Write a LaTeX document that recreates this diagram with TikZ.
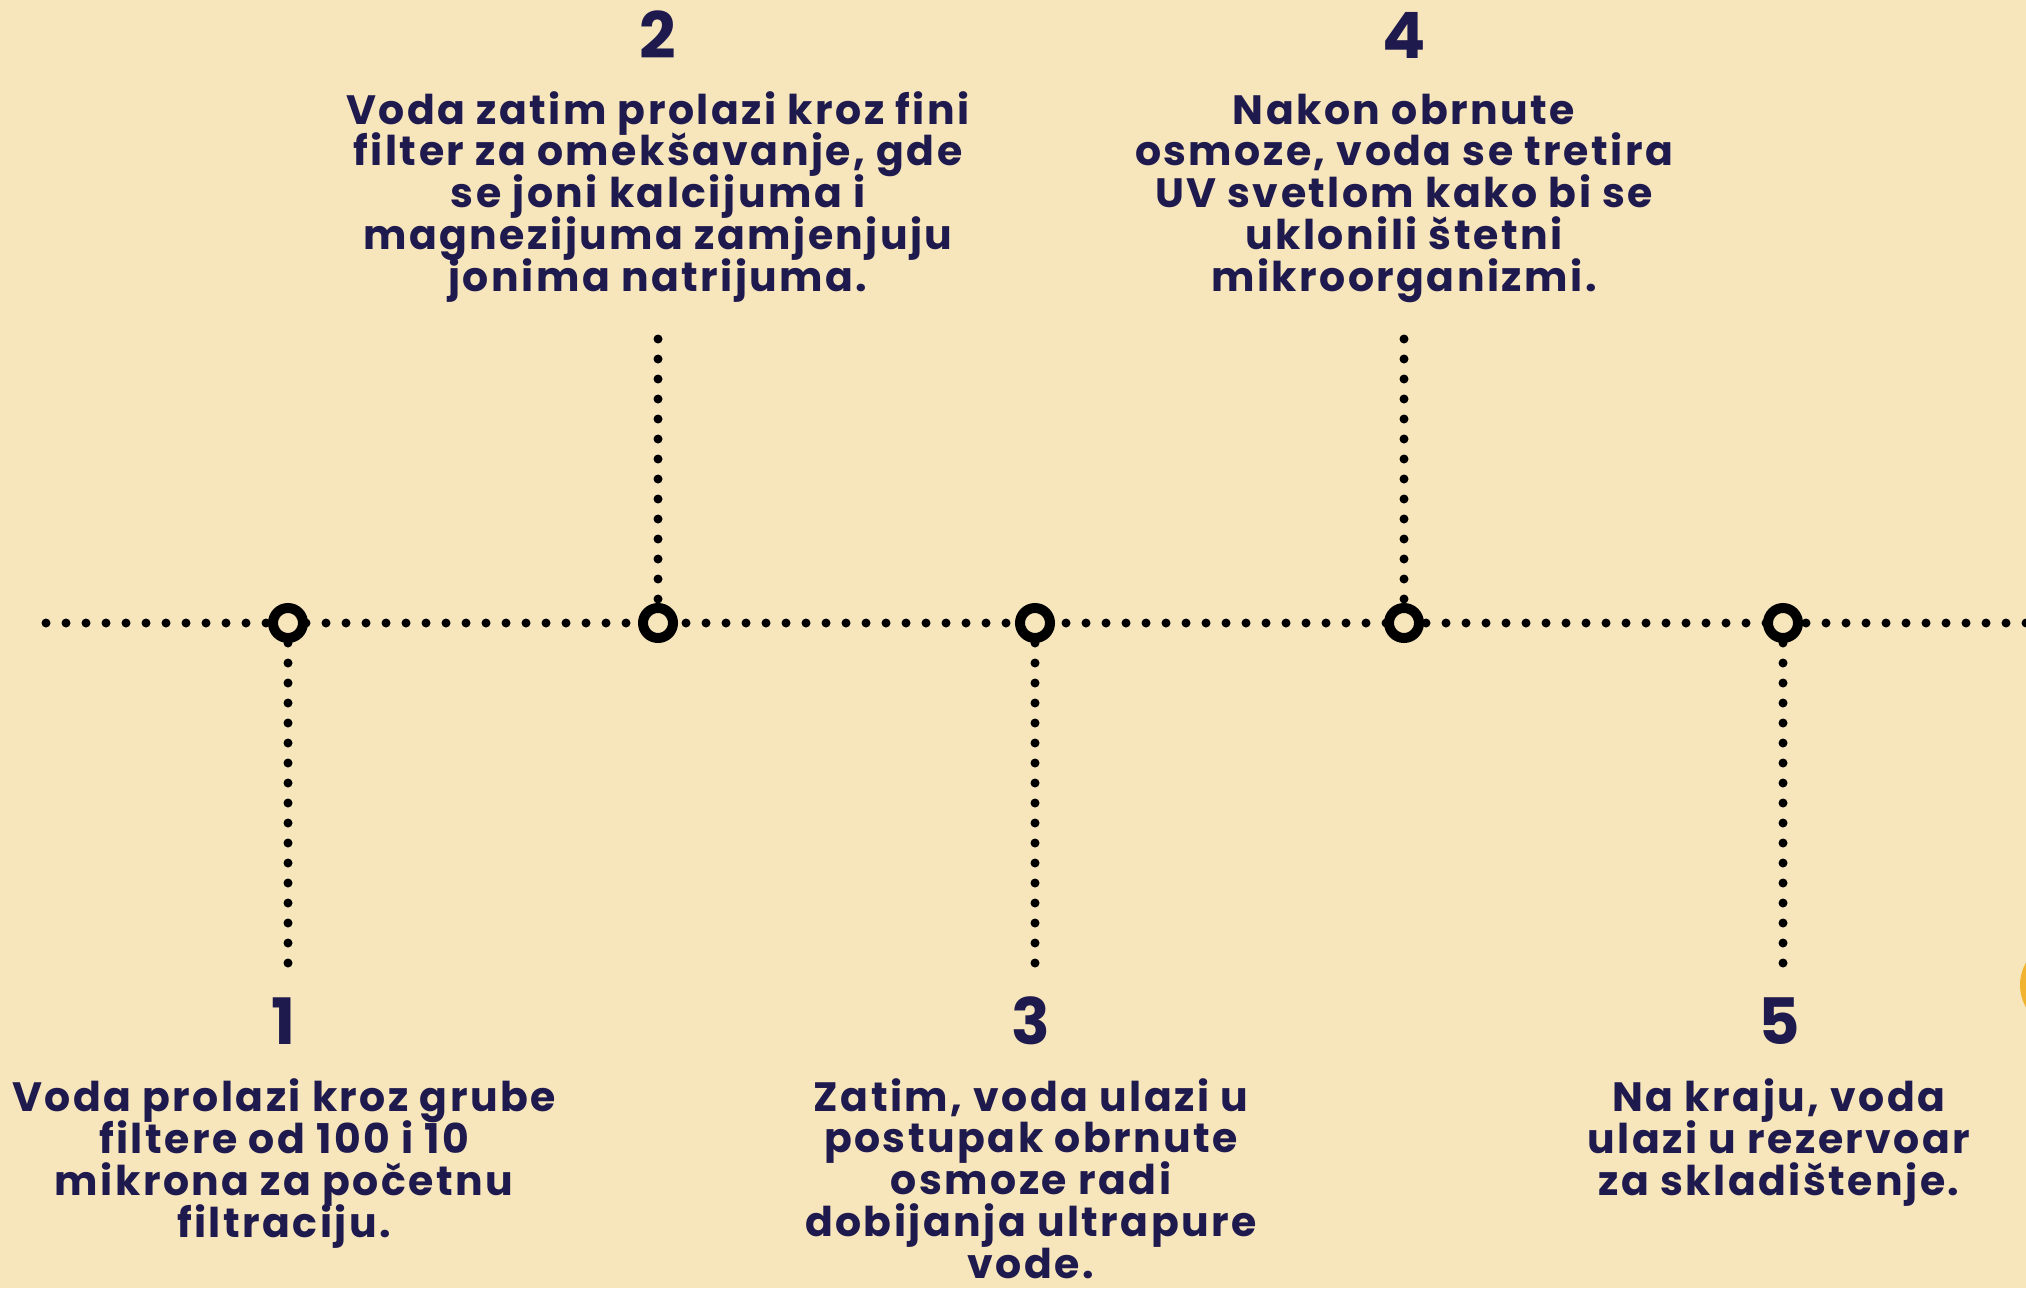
\documentclass[tikz,border=0pt]{standalone}
\usepackage{fontspec}
\setmainfont{Poppins}[UprightFont=* Bold, LetterSpace=6]
\newfontfamily\numfont{Poppins}[UprightFont=* Bold]
\definecolor{bg}{HTML}{F7E6BC}
\definecolor{ink}{HTML}{1F1A4E}
\definecolor{sun}{HTML}{F2B430}
\newcommand\bodyfont{\fontsize{41}{41.7}\selectfont\lineskiplimit=-100pt\lineskip=0pt}
\begin{document}
\begin{tikzpicture}[x=1pt,y=-1pt,
  dotline/.style={line width=9pt, line cap=round, dash pattern=on 0pt off 20pt, black},
  ring/.style={circle, draw=black, line width=10pt, minimum size=30pt, inner sep=0pt, fill=bg},
  body/.style={align=center, text=ink, font=\bodyfont, anchor=base, inner sep=0pt},
  num/.style={text=ink, font=\numfont\fontsize{64}{64}\selectfont, anchor=base, inner sep=0pt}]
\fill[bg] (0,0) rectangle (2026,1288);
\useasboundingbox (0,0) rectangle (2026,1288);
\fill[sun] (2065,985) circle (45);
% connector ends
\coordinate (L) at (46,623);
\coordinate (R) at (2046,623);
\coordinate (t2) at (658,339);
\coordinate (t4) at (1404,339);
\coordinate (b1) at (288,965);
\coordinate (b3) at (1035,965);
\coordinate (b5) at (1783,965);
\node[ring, draw=none, fill=none] (p1) at (288,623) {};
\node[ring, draw=none, fill=none] (p2) at (658,623) {};
\node[ring, draw=none, fill=none] (p3) at (1035,623) {};
\node[ring, draw=none, fill=none] (p4) at (1404,623) {};
\node[ring, draw=none, fill=none] (p5) at (1783,623) {};
\draw[dotline] (L) -- (R);
\draw[dotline] (t2) -- (p2.center);
\draw[dotline] (t4) -- (p4.center);
\draw[dotline] (p1.center) -- (b1);
\draw[dotline] (p3.center) -- (b3);
\draw[dotline] (p5.center) -- (b5);
\node[ring] (c1) at (p1) {};
\node[ring] (c2) at (p2) {};
\node[ring] (c3) at (p3) {};
\node[ring] (c4) at (p4) {};
\node[ring] (c5) at (p5) {};
% numbers
\node[num] (n2) at (658,58) {2};
\node[num] (n4) at (1404,58) {4};
\node[num] (n1) at (284,1044) {1};
\node[num] (n3) at (1031,1044) {3};
\node[num] (n5) at (1779,1044) {5};
% texts (anchored at last-line baseline)
\node[body] (d2) at (658,291) {Voda zatim prolazi kroz fini\\filter za omekšavanje, gde\\se joni kalcijuma i\\magnezijuma zamjenjuju\\jonima natrijuma.};
\node[body] (d4) at (1404,291) {Nakon obrnute\\osmoze, voda se tretira\\UV svetlom kako bi se\\uklonili štetni\\mikroorganizmi.};
\node[body] (d1) at (284,1237) {Voda prolazi kroz grube\\filtere od 100 i 10\\mikrona za početnu\\filtraciju.};
\node[body] (d3) at (1031,1278) {Zatim, voda ulazi u\\postupak obrnute\\osmoze radi\\dobijanja ultrapure\\vode.};
\node[body] (d5) at (1779,1195) {Na kraju, voda\\ulazi u rezervoar\\za skladištenje.};
\end{tikzpicture}
\end{document}
